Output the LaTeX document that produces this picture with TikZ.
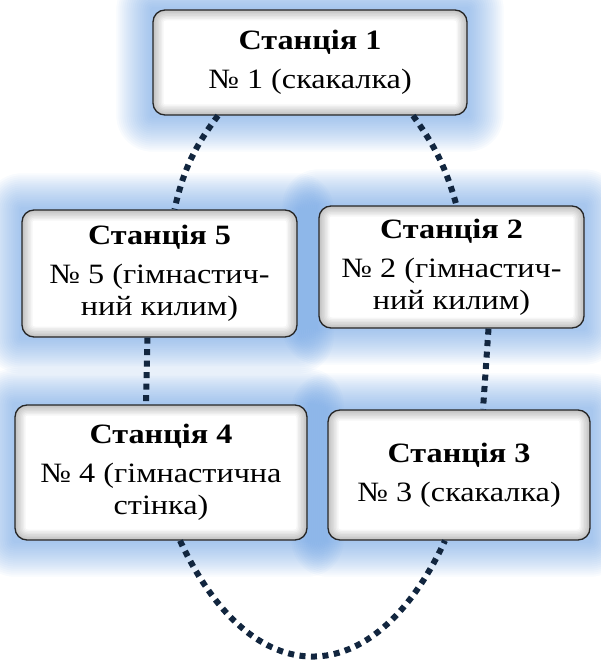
\documentclass[tikz,border=0pt]{standalone}
\usepackage{fontspec}
\setmainfont{Liberation Serif}[FakeStretch=1.15]
\usetikzlibrary{positioning,
        backgrounds}
\definecolor{dotnavy}{HTML}{12263F}
\definecolor{glowblue}{HTML}{5592DE}

\begin{document}
\begin{tikzpicture}[x=1pt,y=1pt,
    stbox/.style={draw=black!85,line width=1.3pt,rounded corners=12pt,fill=white,align=center,inner sep=2pt,
        font=\fontsize{28}{32}\selectfont,
        path picture={
            \foreach \w in {3,6,...,21}
                \draw[black,line width=\w pt,rounded corners=12pt,opacity=0.035,xshift=-1.5pt,yshift=4pt]
                    (path picture bounding box.south west) rectangle (path picture bounding box.north east);
        }},
    dotline/.style={draw=dotnavy,line width=6pt,dash pattern=on 6pt off 5.5pt}]
            \useasboundingbox (0,0) rectangle (601,-666);

            \node [stbox,minimum width=314,minimum height=105] (st1) at (310,-62.5) {\textbf{Станція 1}\\[7pt]№ 1 (скакалка)};
            \node [stbox,minimum width=265,minimum height=122] (st2) at (451.5,-267) {\textbf{Станція 2}\\[7pt]№ 2 (гімнастич-\\ний килим)};
            \node [stbox,minimum width=262,minimum height=130] (st3) at (459,-475) {\textbf{Станція 3}\\[7pt]№ 3 (скакалка)};
            \node [stbox,minimum width=292,minimum height=135] (st4) at (161,-472.5) {\textbf{Станція 4}\\[7pt]№ 4 (гімнастична\\стінка)};
            \node [stbox,minimum width=275,minimum height=127] (st5) at (159.5,-273.5) {\textbf{Станція 5}\\[7pt]№ 5 (гімнастич-\\ний килим)};

            % glow behind the stations
            \begin{scope}[on background layer]
                \foreach \n in {st1,st2,st3,st4,st5}
                    \foreach \g [evaluate=\g as \r using \g+12] in {2,4,...,36}
                        \fill [glowblue,opacity=0.04,rounded corners=\r pt]
                            ([xshift=-\g pt,yshift=-\g pt]\n.south west) rectangle ([xshift=\g pt,yshift=\g pt]\n.north east);
            \end{scope}

            \draw [dotline] ([xshift=-92pt]st1.south) to[bend right=12] ([xshift=15pt]st5.north);
            \draw [dotline] ([xshift=103pt]st1.south) to[bend left=10] ([xshift=5pt]st2.north);
            \draw [dotline] ([xshift=-12pt]st5.south) -- ([xshift=-15pt]st4.north);
            \draw [dotline] ([xshift=37pt]st2.south) -- ([xshift=24pt]st3.north);
            \draw [dotline] ([xshift=19pt]st4.south) to[out=-65,in=-115,looseness=1.65] ([xshift=-14pt]st3.south);
        \end{tikzpicture}
\end{document}
